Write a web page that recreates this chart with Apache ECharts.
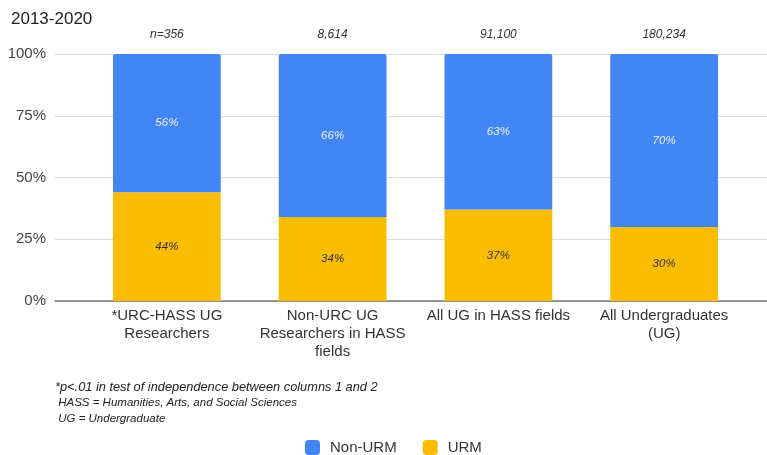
<!DOCTYPE html>
<html>
<head>
<meta charset="utf-8">
<script src="https://cdn.jsdelivr.net/npm/echarts@6/dist/echarts.min.js"></script>
<style>
  html, body { margin: 0; padding: 0; background: #fff; }
  #chart { width: 767px; height: 455px; }
</style>
</head>
<body>
<div id="chart"></div>
<script>
const categories = [
  '*URC-HASS UG\nResearchers',
  'Non-URC UG\nResearchers in HASS\nfields',
  'All UG in HASS fields',
  'All Undergraduates\n(UG)'
]
const sampleSizes = ['n=356', '8,614', '91,100', '180,234']
const urm = [44, 34, 37, 30]
const nonUrm = [56, 66, 63, 70]
const yTicks = [0, 25, 50, 75, 100]
const notes = [
  '*p<.01 in test of independence between columns 1 and 2',
  ' HASS = Humanities, Arts, and Social Sciences',
  ' UG = Undergraduate'
]
const noteSizes = [12.8, 11.5, 11.5]
const noteTops = [381, 397, 413]

const font = 'Arial, "Liberation Sans", sans-serif'
const chart = echarts.init(document.getElementById('chart'))

chart.setOption({
  animation: false,
  textStyle: { fontFamily: font },
  color: ['#fbbc04', '#4285f4'],
  title: {
    text: '2013-2020',
    left: 6,
    top: 6,
    textStyle: { fontSize: 17, fontWeight: 'normal', color: '#222', fontFamily: font }
  },
  graphic: notes.map((t, i) => ({
    type: 'text',
    left: 55,
    top: noteTops[i],
    style: { text: t, font: 'italic ' + noteSizes[i] + 'px ' + font, fill: '#222' }
  })),
  legend: {
    data: ['Non-URM', 'URM'],
    left: 305,
    top: 440,
    padding: 0,
    icon: 'roundRect',
    itemWidth: 15,
    itemHeight: 15,
    itemGap: 26,
    textStyle: { fontSize: 15, color: '#333', padding: [0, 0, 0, 5] }
  },
  grid: [
    { left: 55, right: 0, top: 54, bottom: 154 },
    { left: 84, right: 20, top: 54, bottom: 154 }
  ],
  xAxis: [
    {
      gridIndex: 0,
      type: 'value',
      min: 0,
      max: 1,
      axisLine: { show: true, lineStyle: { color: '#777', width: 1.5 } },
      axisTick: { show: false },
      axisLabel: { show: false },
      splitLine: { show: false }
    },
    {
      gridIndex: 1,
      type: 'category',
      data: categories,
      axisLine: { show: false },
      axisTick: { show: false },
      axisLabel: { fontSize: 15, color: '#333', lineHeight: 18, margin: 6, interval: 0 }
    },
    {
      gridIndex: 1,
      type: 'category',
      position: 'top',
      data: sampleSizes,
      axisLine: { show: false },
      axisTick: { show: false },
      axisLabel: { fontSize: 12, fontStyle: 'italic', color: '#333', margin: 13, interval: 0 }
    }
  ],
  yAxis: [
    {
      gridIndex: 0,
      type: 'value',
      min: yTicks[0],
      max: yTicks[yTicks.length - 1],
      interval: 25,
      axisLine: { show: false },
      axisTick: { show: false },
      axisLabel: { formatter: '{value}%', fontSize: 15, color: '#444', margin: 9 },
      splitLine: { lineStyle: { color: '#dcdcdc', width: 1 } }
    },
    {
      gridIndex: 1,
      type: 'value',
      min: 0,
      max: 100,
      show: false
    }
  ],
  series: [
    {
      name: 'URM',
      type: 'bar',
      xAxisIndex: 1,
      yAxisIndex: 1,
      stack: 'total',
      barWidth: '65%',
      data: urm,
      label: {
        show: true,
        position: 'inside',
        formatter: '{c}%',
        fontSize: 11.5,
        fontStyle: 'italic',
        color: '#333'
      }
    },
    {
      name: 'Non-URM',
      type: 'bar',
      xAxisIndex: 1,
      yAxisIndex: 1,
      stack: 'total',
      barWidth: '65%',
      data: nonUrm,
      itemStyle: { borderRadius: [2, 2, 0, 0] },
      label: {
        show: true,
        position: 'inside',
        formatter: '{c}%',
        fontSize: 11.5,
        fontStyle: 'italic',
        color: '#eef2ff'
      }
    }
  ]
})
</script>
</body>
</html>
